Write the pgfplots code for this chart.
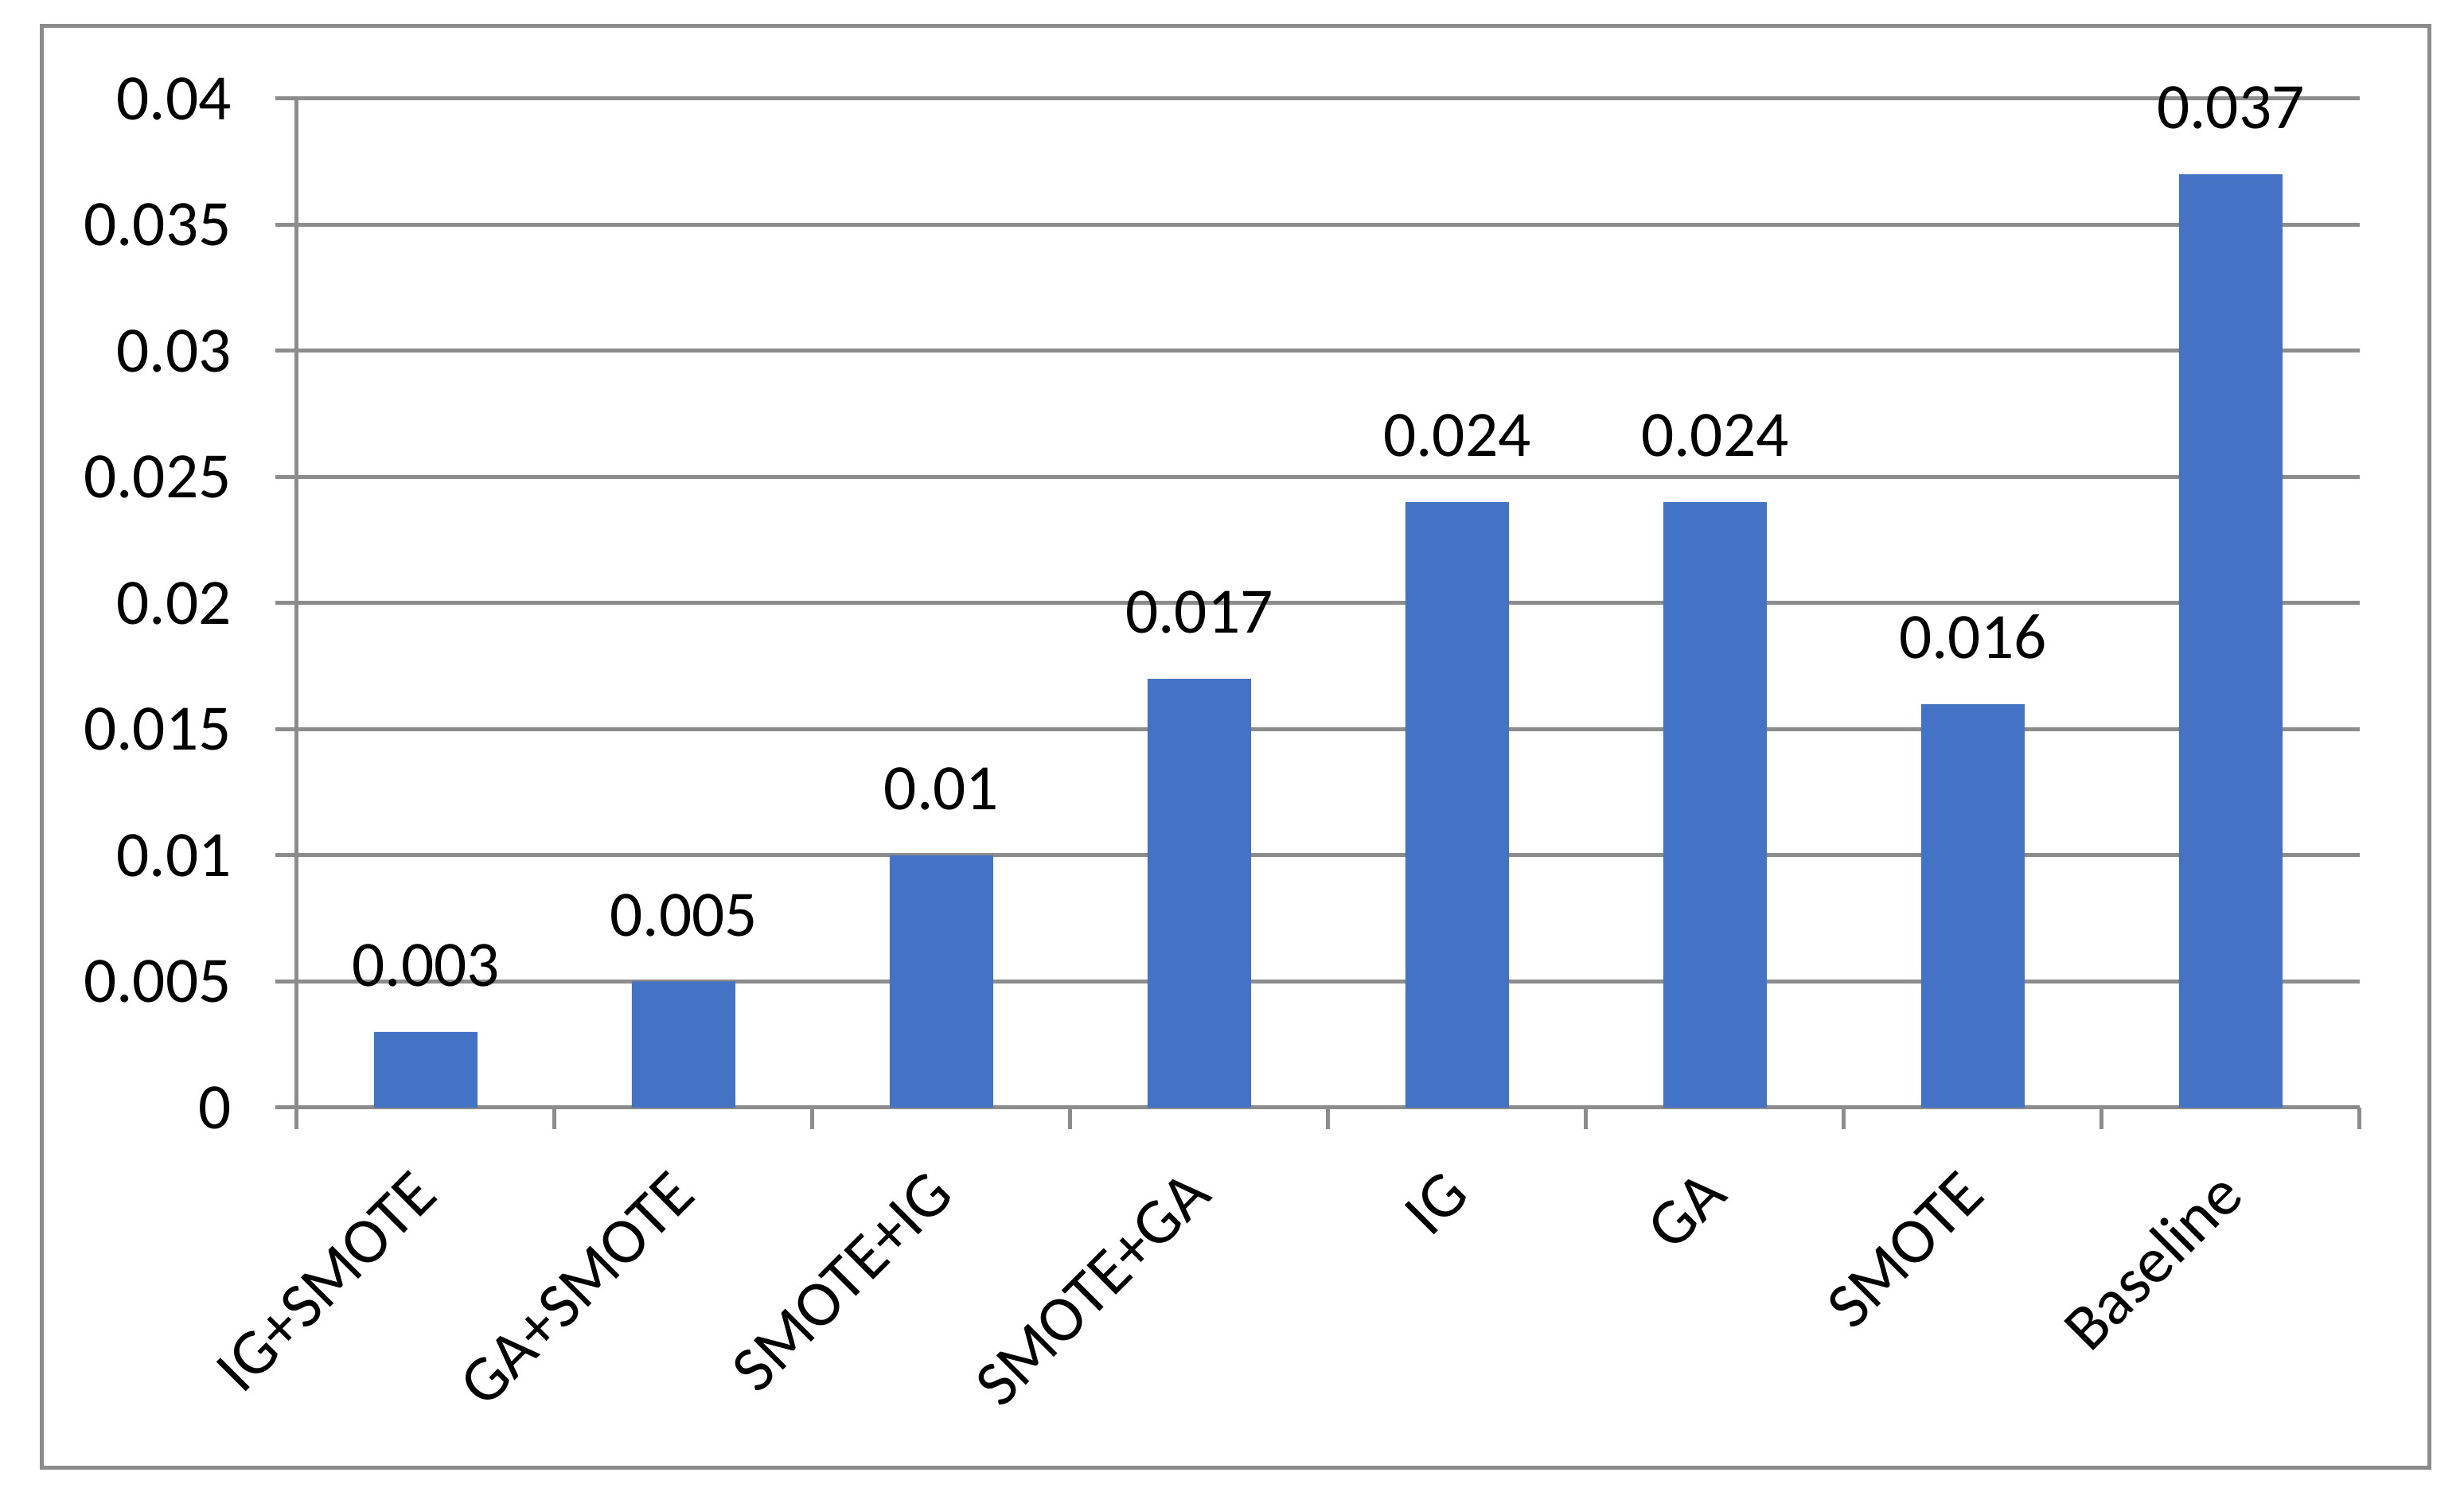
\documentclass[border=0pt]{standalone}
\usepackage{pgfplots}
\pgfplotsset{compat=1.18}
\usepackage{fontspec}
\setmainfont{Carlito}
\definecolor{barblue}{HTML}{4472C4}
\definecolor{gridgray}{HTML}{8C8C8C}
\pgfplotstableread{
x y label
0 0.003 0.003
1 0.005 0.005
2 0.010 0.01
3 0.017 0.017
4 0.024 0.024
5 0.024 0.024
6 0.016 0.016
7 0.037 0.037
}\datatable
\begin{document}
\begin{tikzpicture}
\useasboundingbox (0,0) rectangle (464.4pt,280.5pt);
\fill[white] (0,0) rectangle (464.4pt,280.5pt);
\draw[gridgray, line width=0.75pt] (7.8pt,3.75pt) rectangle (457.8pt,275.55pt);
\begin{axis}[
  at={(55.95pt,71.7pt)}, anchor=south west,
  scale only axis, width=388.8pt, height=190.2pt,
  xmin=-0.5, xmax=7.5, ymin=0, ymax=0.04,
  axis x line=bottom, axis y line=left,
  axis line style={gridgray, line width=0.75pt, -},
  tick align=outside,
  major tick length=4pt,
  tick style={gridgray, line width=0.75pt},
  scaled y ticks=false,
  ytick={0,0.005,0.01,0.015,0.02,0.025,0.03,0.035,0.04},
  yticklabels={0,0.005,0.01,0.015,0.02,0.025,0.03,0.035,0.04},
  ymajorgrids, grid style={gridgray, line width=0.75pt},
  yticklabel style={inner sep=0pt, anchor=east, xshift=-8.15pt, font=\fontsize{12.2}{14}\selectfont},
  xtick={-0.5,0.5,1.5,2.5,3.5,4.5,5.5,6.5,7.5},
  xticklabels={},
  extra x ticks={0,1,2,3,4,5,6,7},
  extra x tick labels={IG+SMOTE,GA+SMOTE,SMOTE+IG,SMOTE+GA,IG,GA,SMOTE,Baseline},
  extra x tick style={major tick length=0pt, grid=none,
    xticklabel style={inner sep=0pt, yshift=-14.1pt, rotate=45, anchor=east, font=\fontsize{12.2}{14}\selectfont}},
  ybar, bar width=19.5pt,
  nodes near coords={\pgfplotspointmeta},
  point meta=explicit symbolic,
  nodes near coords style={anchor=base, inner sep=0pt, yshift=8.6pt, text=black, font=\fontsize{12.2}{14}\selectfont},
  clip=false,
]
\addplot[fill=barblue, draw=none] table[x=x, y=y, meta=label] {\datatable};
\end{axis}
\end{tikzpicture}
\end{document}
